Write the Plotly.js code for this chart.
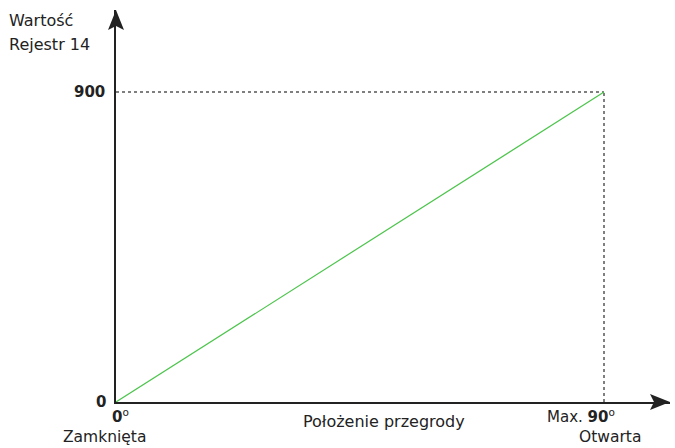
<!DOCTYPE html>
<html><head><meta charset="utf-8">
<script src="https://cdn.plot.ly/plotly-3.0.1.min.js"></script>
<style>html,body{margin:0;padding:0;background:#fff}</style>
</head><body><div id="chart" style="width:675px;height:448px"></div>
<script>
// Data
const angles = [0, 90];          // Położenie przegrody (degrees)
const values = [0, 900];         // Wartość Rejestr 14
const yTickText = ['<b>0</b>', '<b>900</b>'];

const F = 'DejaVu Sans, Verdana, sans-serif';
const C = '#222';

const traces = [
  {x: [angles[0], angles[1]], y: [values[1], values[1]], mode: 'lines',
   line: {color: '#555', width: 1.5, dash: 'dot'}, hoverinfo: 'skip'},
  {x: [angles[1], angles[1]], y: [values[0], values[1]], mode: 'lines',
   line: {color: '#555', width: 1.5, dash: 'dot'}, hoverinfo: 'skip'},
  {x: angles, y: values, mode: 'lines', line: {color: '#4cc44c', width: 1.2}}
];

// plot area in pixels: x 116..670, y 10..402
const L = 116, R = 670, T = 10, B = 402;
const px = p => (p - L) / (R - L);
const py = p => (B - p) / (B - T);

const ann = (text, x, y, opts) => Object.assign({text, xref: 'paper', yref: 'paper',
  x: px(x), y: py(y), showarrow: false, font: {family: F, size: 16, color: C},
  xanchor: 'center', yanchor: 'middle'}, opts || {});

const pathOf = pts => 'M ' + pts.map(p => px(p[0]) + ',' + py(p[1])).join(' L ') + ' Z';

const layout = {
  width: 675, height: 448,
  margin: {l: L, r: 675 - R, t: T, b: 448 - B},
  paper_bgcolor: '#fff', plot_bgcolor: '#fff',
  showlegend: false,
  xaxis: {range: [0, (R - L) * 90 / 488], showgrid: false, zeroline: false,
          showline: true, linecolor: C, linewidth: 2, showticklabels: false, ticks: ''},
  yaxis: {range: [0, (B - T) * 900 / 310], showgrid: false, zeroline: false,
          showline: true, linecolor: C, linewidth: 2, showticklabels: false, ticks: ''},
  shapes: [
    {type: 'path', xref: 'paper', yref: 'paper', fillcolor: C, line: {width: 0},
     path: pathOf([[R, B], [R - 20, B - 8], [R - 16, B], [R - 20, B + 8]])},
    {type: 'path', xref: 'paper', yref: 'paper', fillcolor: C, line: {width: 0},
     path: pathOf([[L, T], [L - 8, T + 20], [L, T + 16], [L + 8, T + 20]])}
  ],
  annotations: [
    ann('Wartość', 7, 21, {xanchor: 'left'}),
    ann('Rejestr 14', 7, 44, {xanchor: 'left'}),
    ann(yTickText[1], 107, 92, {xanchor: 'right', font: {family: F, size: 15, color: C}}),
    ann(yTickText[0], 101, 402, {font: {family: F, size: 15, color: C}}),
    ann('<b>' + angles[0] + '</b><sup>o</sup>', 120, 416, {font: {family: F, size: 15, color: C}}),
    ann('Zamknięta', 104, 437, {font: {family: F, size: 15.5, color: C}}),
    ann('Położenie przegrody', 384, 421),
    ann('Max. <b>' + angles[1] + '</b><sup>o</sup>', 581, 416, {font: {family: F, size: 15, color: C}}),
    ann('Otwarta', 610, 437, {font: {family: F, size: 15.5, color: C}})
  ]
};

Plotly.newPlot('chart', traces, layout, {displayModeBar: false, staticPlot: true});
</script></body></html>
